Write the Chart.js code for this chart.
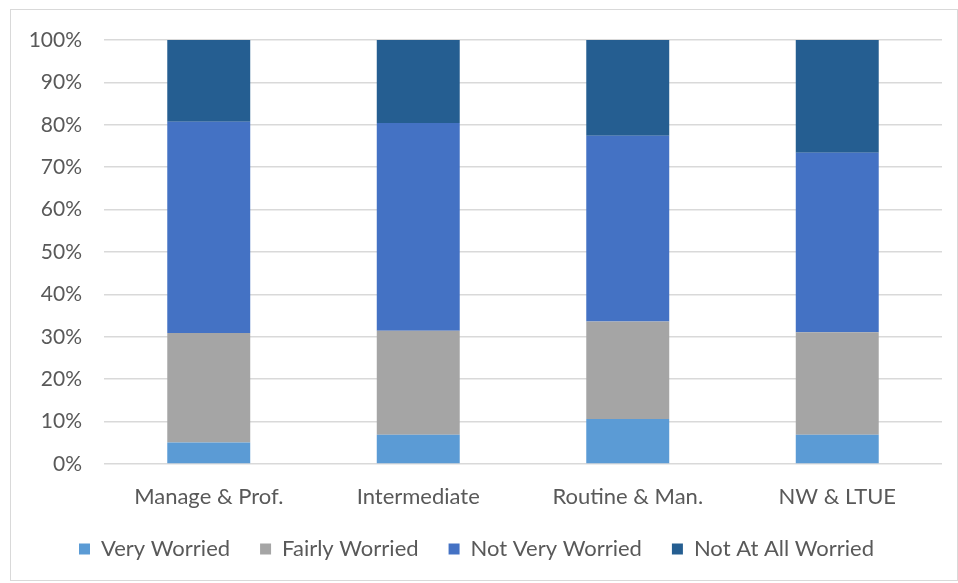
<!DOCTYPE html>
<html>
<head>
<meta charset="utf-8">
<script src="https://cdn.jsdelivr.net/npm/chart.js@4.4.1/dist/chart.umd.min.js"></script>
<style>
  html, body { margin: 0; padding: 0; background: #fff; }
  #box {
    position: absolute; left: 10px; top: 9px;
    width: 946px; height: 570px;
    border: 1px solid #d9d9d9;
  }
  canvas { display: block; }
</style>
</head>
<body>
<div id="box"><canvas id="chart" width="946" height="570"></canvas></div>
<script>
const categories = ['Manage & Prof.', 'Intermediate', 'Routine & Man.', 'NW & LTUE']
const veryWorried = [5.1, 6.9, 10.6, 6.9]
const fairlyWorried = [25.8, 24.5, 23.0, 24.2]
const notVeryWorried = [49.8, 49.0, 43.8, 42.3]
const notAtAllWorried = [19.3, 19.6, 22.6, 26.6]
const yTicks = [0, 10, 20, 30, 40, 50, 60, 70, 80, 90, 100]

const family = 'Lato, "Liberation Sans", sans-serif'
const tickFont = { family, size: 21 }
const labelFont = { family, size: 22 }

const ctx = document.getElementById('chart').getContext('2d')
new Chart(ctx, {
  type: 'bar',
  data: {
    labels: categories,
    datasets: [
      { label: 'Very Worried', data: veryWorried, backgroundColor: '#5b9bd5' },
      { label: 'Fairly Worried', data: fairlyWorried, backgroundColor: '#a5a5a5' },
      { label: 'Not Very Worried', data: notVeryWorried, backgroundColor: '#4472c4' },
      { label: 'Not At All Worried', data: notAtAllWorried, backgroundColor: '#255e91' }
    ]
  },
  options: {
    responsive: false,
    animation: false,
    layout: { padding: { left: 0, right: 15, top: 30, bottom: 10 } },
    datasets: {
      bar: { categoryPercentage: 0.396, barPercentage: 1, borderWidth: 0 }
    },
    scales: {
      x: {
        stacked: true,
        grid: { display: false },
        border: { display: false },
        ticks: { color: '#595959', font: labelFont, padding: 12, maxRotation: 0 },
        afterFit: (s) => { s.height = 44 }
      },
      y: {
        stacked: true,
        min: 0,
        max: 100,
        afterBuildTicks: (s) => { s.ticks = yTicks.map((v) => ({ value: v })) },
        grid: { color: '#d9d9d9', lineWidth: 1.5, drawTicks: false },
        border: { display: false },
        ticks: { color: '#595959', font: tickFont, padding: 22, callback: (v) => v + '%' },
        afterFit: (s) => {
          s.width = 93
          s.paddingTop = 14
          s.paddingBottom = 14
        }
      }
    },
    plugins: {
      legend: {
        position: 'bottom',
        labels: { color: '#595959', font: labelFont, boxWidth: 11, boxHeight: 11, padding: 30 }
      },
      tooltip: { enabled: false }
    }
  }
})
</script>
</body>
</html>
